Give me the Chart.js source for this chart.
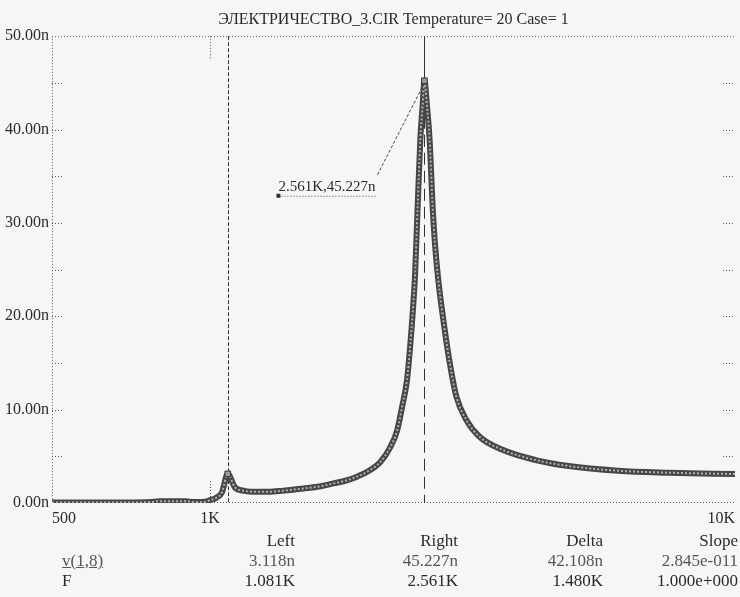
<!DOCTYPE html>
<html>
<head>
<meta charset="utf-8">
<script src="https://cdn.jsdelivr.net/npm/chart.js@4/dist/chart.umd.min.js"></script>
<style>
  body { margin: 0; background: #f6f7f4; }
  #wrap { position: relative; width: 740px; height: 597px; }
  .c { position: absolute; font: 17px "Liberation Serif", serif; color: #2a2a2a; white-space: nowrap; line-height: 20px; }
  .r { text-align: right; }
  .dim { color: #555; }
</style>
</head>
<body>
<div id="wrap">
  <canvas id="myChart" width="740" height="597"></canvas>

  <div class="c r" style="top:531px; right:445px;">Left</div>
  <div class="c r" style="top:531px; right:282px;">Right</div>
  <div class="c r" style="top:531px; right:137px;">Delta</div>
  <div class="c r" style="top:531px; right:2px;">Slope</div>

  <div class="c dim" style="top:551px; left:62px; text-decoration:underline;">v(1,8)</div>
  <div class="c r dim" style="top:551px; right:445px;">3.118n</div>
  <div class="c r dim" style="top:551px; right:282px;">45.227n</div>
  <div class="c r dim" style="top:551px; right:137px;">42.108n</div>
  <div class="c r dim" style="top:551px; right:2px;">2.845e-011</div>

  <div class="c" style="top:571px; left:62px;">F</div>
  <div class="c r" style="top:571px; right:445px;">1.081K</div>
  <div class="c r" style="top:571px; right:282px;">2.561K</div>
  <div class="c r" style="top:571px; right:137px;">1.480K</div>
  <div class="c r" style="top:571px; right:2px;">1.000e+000</div>
</div>
<script>
// frequency sweep (Hz) and v(1,8) in nA
const freq = [500, 600, 700, 770, 800, 900, 930, 970, 1000, 1030,
  1053, 1081, 1115, 1164, 1230, 1292, 1370, 1447, 1530, 1626,
  1720, 1828, 1910, 1994, 2111, 2206, 2273, 2322, 2373, 2405,
  2437, 2458, 2485, 2515, 2540, 2561, 2590, 2620, 2655, 2680,
  2720, 2800, 2862, 2946, 3077, 3261, 3607, 4172, 4820, 5980,
  7440, 10000];
const vOut = [0.05, 0.05, 0.05, 0.1, 0.2, 0.2, 0.1, 0.1, 0.3, 0.6,
  1.1, 3.118, 1.7, 1.3, 1.2, 1.2, 1.3, 1.45, 1.6, 1.8,
  2.1, 2.45, 2.85, 3.35, 4.4, 6.0, 7.8, 10.3, 13.2, 16.7,
  21.0, 24.5, 31.5, 38.9, 42.5, 45.227, 42.5, 38.9, 31.7, 28.0,
  24.0, 18.5, 15.0, 11.4, 8.9, 7.1, 5.7, 4.6, 3.96, 3.46,
  3.25, 3.1];

// cursors: left, right
const cursorF = [1081, 2561];
const cursorV = [3.118, 45.227];

const xTicks = [500, 1000, 10000];
const xTickLabels = ['500', '1K', '10K'];
const yTicks = [0, 10, 20, 30, 40, 50];
const yTickLabels = ['0.00n', '10.00n', '20.00n', '30.00n', '40.00n', '50.00n'];

const pts = freq.map((f, i) => ({ x: f, y: vOut[i] }));
const FONT = 'Liberation Serif';
const INK = '#2a2a2a';

const decor = {
  id: 'decor',
  beforeDatasetsDraw(chart) {
    const { ctx, chartArea: a, scales: { x, y } } = chart;
    ctx.save();
    ctx.strokeStyle = '#555';
    ctx.lineWidth = 1;
    ctx.setLineDash([1, 2]);
    // frame
    ctx.beginPath();
    ctx.moveTo(a.left + 0.5, a.top); ctx.lineTo(a.left + 0.5, a.bottom);
    ctx.moveTo(a.left, a.top + 0.5); ctx.lineTo(a.right, a.top + 0.5);
    ctx.moveTo(a.left, a.bottom - 0.5); ctx.lineTo(a.right, a.bottom - 0.5);
    ctx.stroke();
    // short minor ticks every 5n
    ctx.beginPath();
    for (let v = 5; v < 50; v += 5) {
      const py = Math.round(y.getPixelForValue(v)) + 0.5;
      ctx.moveTo(a.left, py); ctx.lineTo(a.left + 12, py);
      ctx.moveTo(a.right - 12, py); ctx.lineTo(a.right, py);
    }
    // 1K tick top and bottom
    const px1k = Math.round(x.getPixelForValue(1000)) + 0.5;
    ctx.moveTo(px1k, a.top); ctx.lineTo(px1k, a.top + 22);
    ctx.moveTo(px1k, a.bottom); ctx.lineTo(px1k, a.bottom - 22);
    ctx.stroke();

    // left cursor
    ctx.strokeStyle = '#333';
    ctx.setLineDash([4, 2]);
    const lx = Math.round(x.getPixelForValue(cursorF[0])) + 0.5;
    ctx.beginPath(); ctx.moveTo(lx, a.top); ctx.lineTo(lx, a.bottom); ctx.stroke();
    // right cursor: solid above the peak, dashed below
    const rx = Math.round(x.getPixelForValue(cursorF[1])) + 0.5;
    const ry = y.getPixelForValue(cursorV[1]);
    ctx.setLineDash([]);
    ctx.beginPath(); ctx.moveTo(rx, a.top); ctx.lineTo(rx, ry); ctx.stroke();
    ctx.setLineDash([12, 6]);
    ctx.beginPath(); ctx.moveTo(rx, ry); ctx.lineTo(rx, a.bottom); ctx.stroke();
    ctx.restore();
  },
  afterDraw(chart) {
    const { ctx, chartArea: a, scales: { x, y } } = chart;
    ctx.save();
    // x tick labels, first left aligned, last right aligned
    ctx.fillStyle = INK;
    ctx.font = '16px "' + FONT + '"';
    ctx.textBaseline = 'middle';
    xTicks.forEach((v, i) => {
      ctx.textAlign = i === 0 ? 'left' : (i === xTicks.length - 1 ? 'right' : 'center');
      ctx.fillText(xTickLabels[i], x.getPixelForValue(v), a.bottom + 16);
    });

    // peak label with leader
    const px = x.getPixelForValue(cursorF[1]);
    const py = y.getPixelForValue(cursorV[1]);
    const tx = px - 146, ty = py + 110;
    const txt = (cursorF[1] / 1000).toFixed(3) + 'K,' + cursorV[1].toFixed(3) + 'n';
    ctx.font = '15px "' + FONT + '"';
    ctx.textAlign = 'left';
    ctx.textBaseline = 'alphabetic';
    ctx.fillText(txt, tx, ty);
    const w = ctx.measureText(txt).width;
    ctx.strokeStyle = '#444';
    ctx.lineWidth = 1;
    ctx.setLineDash([1, 2]);
    ctx.beginPath(); ctx.moveTo(tx, ty + 5.5); ctx.lineTo(tx + w, ty + 5.5); ctx.stroke();
    ctx.fillStyle = '#333';
    ctx.fillRect(tx - 2, ty + 3, 4, 4);
    ctx.setLineDash([3, 2]);
    ctx.beginPath(); ctx.moveTo(tx + w + 2, ty - 16); ctx.lineTo(px - 1, py + 4); ctx.stroke();
    ctx.restore();
  }
};

new Chart(document.getElementById('myChart'), {
  type: 'line',
  data: {
    datasets: [
      {
        label: 'v(1,8) outline',
        data: pts,
        borderColor: '#474747',
        borderWidth: 6,
        pointRadius: 0,
        cubicInterpolationMode: 'monotone',
        order: 3
      },
      {
        label: 'v(1,8)',
        data: pts,
        borderColor: '#b0b0b0',
        borderWidth: 2,
        borderDash: [2, 2],
        pointRadius: 0,
        cubicInterpolationMode: 'monotone',
        order: 2
      },
      {
        label: 'cursors',
        data: cursorF.map((f, i) => ({ x: f, y: cursorV[i] })),
        showLine: false,
        pointStyle: 'rect',
        pointRadius: 4,
        backgroundColor: '#9a9a9a',
        borderColor: '#333',
        borderWidth: 1,
        order: 1
      }
    ]
  },
  options: {
    responsive: false,
    animation: false,
    layout: { padding: { right: 2 } },
    plugins: {
      legend: { display: false },
      tooltip: { enabled: false },
      title: {
        display: true,
        fullSize: false,
        text: 'ЭЛЕКТРИЧЕСТВО_3.CIR Temperature= 20 Case= 1',
        color: INK,
        font: { family: FONT, size: 16, weight: 'normal' },
        padding: { top: 10, bottom: 7 }
      }
    },
    scales: {
      x: {
        type: 'logarithmic',
        min: 500,
        max: 10000,
        afterFit(s) { s.height = 94; },
        grid: { display: false },
        border: { display: false },
        ticks: { display: false }
      },
      y: {
        min: 0,
        max: 50,
        afterFit(s) { s.width = 52; },
        afterBuildTicks(s) { s.ticks = yTicks.map(v => ({ value: v })); },
        grid: { display: false, drawTicks: false },
        border: { display: false },
        ticks: {
          padding: 3,
          color: INK,
          font: { family: FONT, size: 16 },
          callback: v => yTickLabels[yTicks.indexOf(v)]
        }
      }
    }
  },
  plugins: [decor]
});
</script>
</body>
</html>
